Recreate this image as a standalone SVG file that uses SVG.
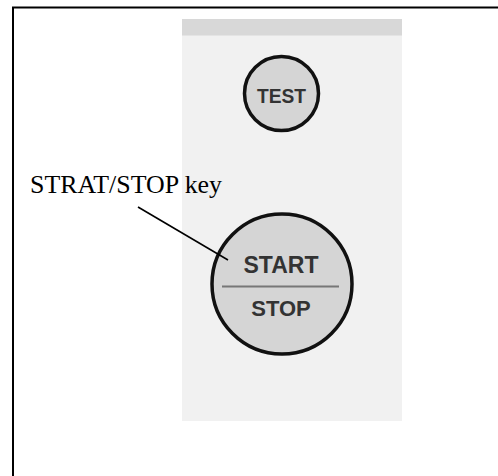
<svg xmlns="http://www.w3.org/2000/svg" width="498" height="476" viewBox="0 0 498 476">
<style>
.key{fill:#d5d5d5;stroke:#111;stroke-width:3.5}
.kt{font-family:"Liberation Sans",Arial,sans-serif;font-weight:bold;fill:#333;text-anchor:middle}
.lbl{font-family:"Liberation Serif","Times New Roman",serif;font-size:25px;fill:#000}
</style>
<rect x="0" y="0" width="498" height="476" fill="#fff"/>
<rect x="13" y="7.5" width="500" height="500" fill="none" stroke="#000" stroke-width="2"/>
<g id="panel">
<rect x="182" y="19" width="220" height="402" fill="#f1f1f1"/>
<rect x="182" y="19" width="220" height="16.5" fill="#d8d8d8"/>
</g>
<g id="test-key">
<circle class="key" cx="281.5" cy="93.5" r="37"/>
<text class="kt" x="281.5" y="103" font-size="21" textLength="49" lengthAdjust="spacingAndGlyphs" fill="#4a4a4a">TEST</text>
</g>
<g id="start-stop-key">
<circle class="key" cx="282" cy="284" r="70"/>
<text class="kt" x="281" y="273" font-size="23">START</text>
<line x1="222" y1="286.5" x2="339" y2="286.5" stroke="#777" stroke-width="2"/>
<text class="kt" x="281" y="316" font-size="22">STOP</text>
</g>
<g id="label">
<text class="lbl" x="30" y="193" textLength="192" lengthAdjust="spacingAndGlyphs">STRAT/STOP key</text>
</g>
<g id="connectors">
<line x1="138" y1="207" x2="228" y2="260" stroke="#000" stroke-width="1.6"/>
</g>
</svg>
